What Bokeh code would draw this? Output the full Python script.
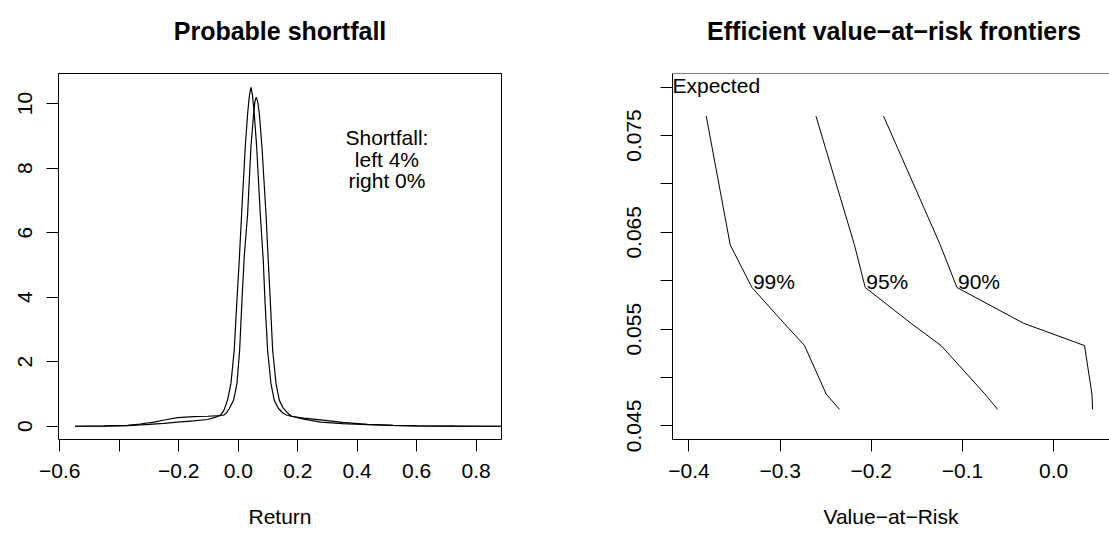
from bokeh.plotting import figure
from bokeh.layouts import row, column
from bokeh.models import Range1d, FixedTicker, Label, Span
from bokeh.embed import file_html
from bokeh.resources import INLINE

# ---------------- data: left panel (densities of return) ----------------
ret_a = [-0.549, -0.45, -0.372, -0.30, -0.25, -0.204, -0.15, -0.103, -0.07, -0.058, -0.048,
         -0.036, -0.0246, -0.0135, -0.0044, 0.0034, 0.0114, 0.0236, 0.0316, 0.0375, 0.0427,
         0.048, 0.0538, 0.0619, 0.074, 0.0841, 0.0898, 0.0987, 0.110, 0.121, 0.135, 0.149,
         0.162, 0.177, 0.22, 0.278, 0.35, 0.435, 0.52, 0.60, 0.727, 0.885]
dens_a = [0.0, 0.005, 0.02, 0.06, 0.09, 0.13, 0.17, 0.21, 0.30, 0.36, 0.50,
          0.81, 1.32, 2.355, 3.90, 5.14, 6.59, 8.66, 9.69, 10.25, 10.50,
          10.25, 9.69, 8.66, 6.59, 5.14, 3.90, 2.355, 1.32, 0.81, 0.55, 0.42,
          0.35, 0.31, 0.25, 0.20, 0.12, 0.06, 0.03, 0.015, 0.005, 0.0]

ret_b = [-0.549, -0.45, -0.372, -0.33, -0.283, -0.24, -0.204, -0.15, -0.103, -0.06, -0.048,
         -0.041, -0.03, -0.0155, -0.0044, 0.0047, 0.0125, 0.0205, 0.0316, 0.0427, 0.0518,
         0.056, 0.0606, 0.0655, 0.0709, 0.0797, 0.0932, 0.100, 0.1077, 0.1157, 0.127, 0.138,
         0.150, 0.165, 0.18, 0.22, 0.278, 0.35, 0.435, 0.52, 0.60, 0.727, 0.885]
dens_b = [0.0, 0.01, 0.03, 0.07, 0.13, 0.21, 0.27, 0.30, 0.31, 0.33, 0.35,
          0.40, 0.55, 0.81, 1.32, 2.355, 3.90, 5.3, 6.59, 8.66, 9.69,
          10.05, 10.20, 10.05, 9.69, 8.66, 6.59, 5.3, 3.90, 2.355, 1.32, 0.81,
          0.58, 0.42, 0.31, 0.22, 0.13, 0.08, 0.05, 0.025, 0.01, 0.003, 0.0]

ret_ticks = [-0.6, -0.4, -0.2, 0.0, 0.2, 0.4, 0.6, 0.8]
ret_tick_labels = ["\u22120.6", "", "\u22120.2", "0.0", "0.2", "0.4", "0.6", "0.8"]
dens_ticks = [0, 2, 4, 6, 8, 10]
dens_tick_labels = ["0", "2", "4", "6", "8", "10"]
shortfall_lines = ["Shortfall:", "left 4%", "right 0%"]

# ---------------- data: right panel (VaR frontiers) ----------------
expected_return = [0.0467, 0.0483, 0.0533, 0.0556, 0.0593, 0.0637, 0.0770]
var_99 = [-0.2348, -0.2495, -0.2732, -0.2956, -0.3309, -0.3547, -0.3810]
var_95 = [-0.0614, -0.0755, -0.1235, -0.1565, -0.2067, -0.2185, -0.2607]
var_90 = [0.0426, 0.0419, 0.0338, -0.0330, -0.1061, -0.1244, -0.1866]
frontier_names = ["99%", "95%", "90%"]

var_ticks = [-0.4, -0.3, -0.2, -0.1, 0.0]
var_tick_labels = ["\u22120.4", "\u22120.3", "\u22120.2", "\u22120.1", "0.0"]
er_ticks = [0.045, 0.050, 0.055, 0.060, 0.065, 0.070, 0.075, 0.080]
er_tick_labels = ["0.045", "", "0.055", "", "0.065", "", "0.075", ""]

titles = ["Probable shortfall", "Efficient value\u2212at\u2212risk frontiers"]
x_titles = ["Return", "Value\u2212at\u2212Risk"]

FONT = "Liberation Sans"
TITLE_H = 43          # strip holding the main titles
H = 545 - TITLE_H     # height of the plot panels
TOP, BOTTOM = 30, 106


def title_strip(width, text, cx):
    t = figure(width=width, height=TITLE_H, output_backend="svg", toolbar_location=None,
               x_range=Range1d(0, width), y_range=Range1d(0, TITLE_H),
               x_axis_location=None, y_axis_location=None, min_border=0)
    t.grid.visible = False
    t.outline_line_color = None
    t.background_fill_color = "white"
    t.border_fill_color = "white"
    t.add_layout(Label(x=cx, y=TITLE_H - 30, text=text, text_align="center",
                       text_baseline="alphabetic", text_font=FONT, text_font_size="25px",
                       text_font_style="bold", text_color="black"))
    return t


def style(p, xt, xl, yt, yl, ystand):
    p.grid.visible = False
    p.background_fill_color = "white"
    p.border_fill_color = "white"
    for ax in p.xaxis:
        ax.ticker = FixedTicker(ticks=xt)
        ax.major_label_overrides = {t: l for t, l in zip(xt, xl)}
        ax.major_label_standoff = 12
        ax.axis_label_standoff = 24
    for ax in p.yaxis:
        ax.ticker = FixedTicker(ticks=yt)
        ax.major_label_overrides = {t: l for t, l in zip(yt, yl)}
        ax.major_label_orientation = "vertical"
        ax.major_label_standoff = ystand
    for ax in p.axis:
        ax.major_tick_in = 0
        ax.major_tick_out = 12
        ax.major_tick_line_color = "black"
        ax.minor_tick_line_color = None
        ax.major_label_text_font = FONT
        ax.major_label_text_font_size = "21px"
        ax.major_label_text_color = "black"
        ax.axis_label_text_font = FONT
        ax.axis_label_text_font_size = "21px"
        ax.axis_label_text_font_style = "normal"
        ax.axis_label_text_color = "black"


# ---------------- left figure ----------------
p1 = figure(width=554, height=H, output_backend="svg", toolbar_location=None,
            x_range=Range1d(-0.6044, 0.8852), y_range=Range1d(-0.41, 10.93),
            min_border_left=58, min_border_right=53, min_border_top=TOP, min_border_bottom=BOTTOM,
            x_axis_label=x_titles[0])
style(p1, ret_ticks, ret_tick_labels, dens_ticks, dens_tick_labels, 14)
p1.outline_line_color = "black"
p1.outline_line_width = 1
p1.outline_line_alpha = 1
for ax in p1.axis:
    ax.axis_line_color = None

p1.line(ret_a, dens_a, line_color="black", line_width=1.2)
p1.line(ret_b, dens_b, line_color="black", line_width=1.2)

for i, txt in enumerate(shortfall_lines):
    p1.add_layout(Label(x=0.50, y=8.96 - 0.68 * i, text=txt, text_align="center",
                        text_baseline="middle", text_font=FONT, text_font_size="21px",
                        text_color="black"))

# ---------------- right figure ----------------
x_lo = -0.418
x_hi = x_lo + 437 / 912.0
p2 = figure(width=555, height=H, output_backend="svg", toolbar_location=None,
            x_range=Range1d(x_lo, x_hi), y_range=Range1d(0.0436, 0.0814),
            min_border_left=118, min_border_right=0, min_border_top=TOP, min_border_bottom=BOTTOM,
            x_axis_label=x_titles[1])
style(p2, var_ticks, var_tick_labels, er_ticks, er_tick_labels, 19)
p2.outline_line_color = None
for ax in p2.axis:
    ax.axis_line_color = "black"
    ax.axis_line_width = 1
p2.add_layout(Span(location=0.0814, dimension="width", line_color="black", line_width=1))

for vals, name in zip([var_99, var_95, var_90], frontier_names):
    p2.line(vals, expected_return, line_color="black", line_width=1)
    p2.add_layout(Label(x=vals[4], y=expected_return[4], text=name, x_offset=1, y_offset=6,
                        text_align="left", text_baseline="middle", text_font=FONT,
                        text_font_size="21px", text_color="black"))

p2.add_layout(Label(x=x_lo, y=0.080, text="Expected", text_align="left", text_baseline="middle",
                    y_offset=2, text_font=FONT, text_font_size="21px", text_color="black"))

t1 = title_strip(554, titles[0], 58 + 443 / 2)
t2 = title_strip(555, titles[1], 118 + 437 / 2 + 3)

layout = column(row(t1, t2), row(p1, p2))
open("out.html", "w").write(file_html(layout, INLINE))
